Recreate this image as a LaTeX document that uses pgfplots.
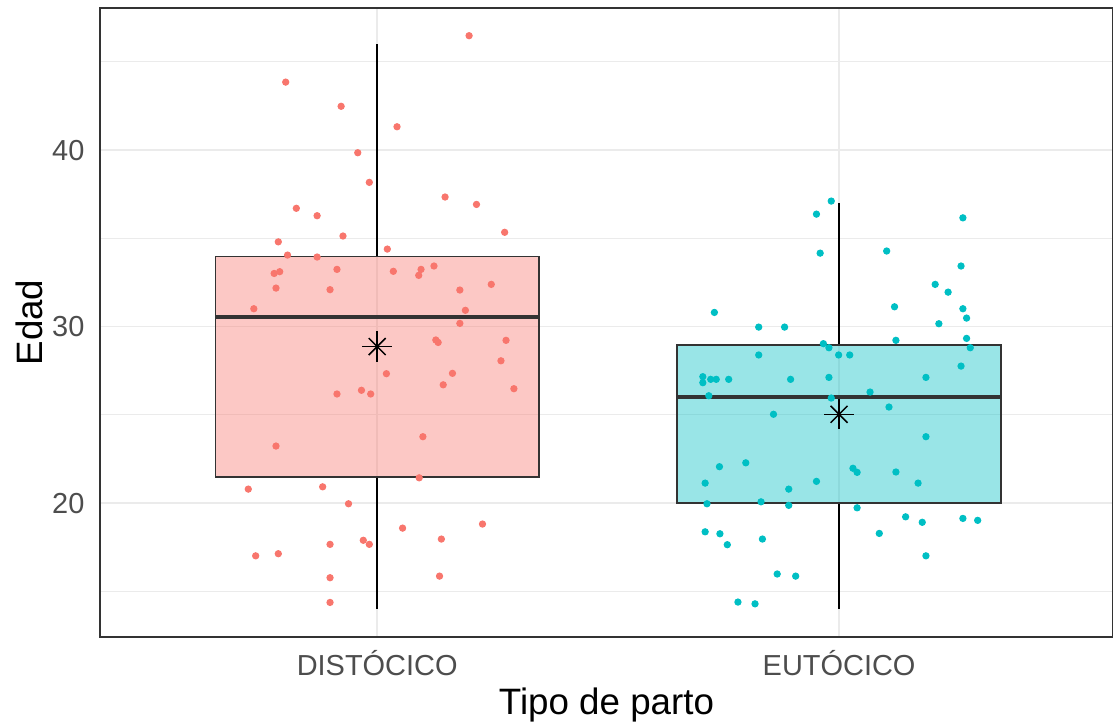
\documentclass[border=0pt]{standalone}
\usepackage{pgfplots}
\pgfplotsset{compat=1.18}
\usepackage{pgfplotstable}
\usepackage{fontspec}
\setmainfont{Liberation Sans}
\definecolor{cred}{HTML}{F8766D}
\definecolor{ccyan}{HTML}{00BFC4}
\definecolor{gridc}{HTML}{EBEBEB}
\definecolor{bord}{HTML}{333333}
\definecolor{tickc}{HTML}{4D4D4D}

\pgfplotstableread{
x y
0.802 43.85
0.922 42.48
0.958 39.85
0.983 38.17
0.825 36.70
0.870 36.28
0.786 34.80
0.926 35.13
1.022 34.39
0.806 34.05
0.870 33.94
0.777 33.01
0.789 33.11
0.913 33.24
0.781 32.18
0.898 32.09
0.733 31.01
1.199 46.48
1.043 41.32
1.147 37.34
1.215 36.92
1.276 35.34
1.035 33.13
1.095 33.24
1.090 32.90
1.123 33.43
1.179 32.07
1.247 32.39
1.191 30.92
1.020 27.33
0.913 26.18
0.966 26.39
0.986 26.18
0.781 23.23
0.721 20.79
0.882 20.92
0.938 19.96
0.898 17.66
0.970 17.89
0.983 17.66
0.737 17.01
0.786 17.13
0.898 15.77
0.898 14.37
1.179 30.18
1.127 29.24
1.132 29.10
1.279 29.22
1.268 28.06
1.163 27.35
1.143 26.70
1.296 26.48
1.099 23.76
1.091 21.43
1.055 18.58
1.139 17.96
1.228 18.81
1.135 15.86
}\distocico

\pgfplotstableread{
x y
1.983 37.11
1.951 36.37
1.959 34.16
1.730 30.80
1.826 29.97
1.882 29.97
1.966 29.03
1.978 28.80
1.826 28.39
1.999 28.39
2.023 28.39
1.705 27.16
1.705 26.82
1.722 27.01
1.734 27.01
1.761 27.01
1.895 27.01
1.978 27.12
1.718 26.08
1.983 25.95
1.858 25.03
2.268 36.16
2.103 34.28
2.264 33.43
2.208 32.39
2.236 31.95
2.120 31.12
2.268 31.01
2.276 30.48
2.216 30.16
2.276 29.33
2.123 29.22
2.284 28.80
2.264 27.76
2.188 27.12
2.067 26.29
2.108 25.44
1.741 22.06
1.798 22.28
1.710 21.13
1.951 21.23
1.891 20.79
1.714 19.96
1.831 20.07
1.891 19.87
1.710 18.37
1.742 18.26
1.758 17.64
1.834 17.96
1.866 15.98
1.906 15.86
1.781 14.39
1.818 14.29
2.188 23.76
2.030 21.97
2.039 21.74
2.123 21.76
2.171 21.13
2.039 19.73
2.144 19.22
2.180 18.91
2.268 19.13
2.300 19.02
2.087 18.28
2.188 17.01
}\eutocico

\begin{document}
\begin{tikzpicture}
\begin{axis}[name=ax, scale only axis, width=364.06pt, height=226.06pt,
  xmin=0.4, xmax=2.593, ymin=12.41, ymax=48.05,
  xtick={1,2}, xticklabels={DISTÓCICO, EUTÓCICO},
  ytick={20,30,40}, minor ytick={15,25,35,45},
  grid=both,
  major grid style={gridc, line width=0.55pt},
  minor grid style={gridc, line width=0.3pt},
  axis line style={bord, line width=0.7pt},
  major tick length=0pt, minor tick length=0pt,
  /pgf/number format/assume math mode=true,
  tick label style={font=\fontsize{10.4}{12}\selectfont, text=tickc, inner sep=0pt},
  xticklabel style={anchor=base, yshift=-14pt},
  yticklabel style={anchor=east, xshift=-5.4pt},
  clip=false,
]
% whiskers
\addplot[black, line width=0.5pt] coordinates {(1,33.97) (1,46.0)};
\addplot[black, line width=0.5pt] coordinates {(1,21.5) (1,14.0)};
\addplot[black, line width=0.5pt] coordinates {(2,28.95) (2,37.0)};
\addplot[black, line width=0.5pt] coordinates {(2,20.0) (2,14.0)};
% boxes
\addplot[draw=bord, line width=0.7pt, fill=cred, fill opacity=0.4] coordinates {(0.65,21.5) (1.35,21.5) (1.35,33.97) (0.65,33.97)} -- cycle;
\addplot[draw=bord, line width=0.7pt, fill=ccyan, fill opacity=0.4] coordinates {(1.65,20.0) (2.35,20.0) (2.35,28.95) (1.65,28.95)} -- cycle;
% medians
\addplot[bord, line width=1.3pt] coordinates {(0.65,30.55) (1.35,30.55)};
\addplot[bord, line width=1.3pt] coordinates {(1.65,26.0) (2.35,26.0)};
% points
\addplot[only marks, mark=*, color=cred, mark size=1.1pt, line width=0.4pt] table {\distocico};
\addplot[only marks, mark=*, color=ccyan, mark size=1.1pt, line width=0.4pt] table {\eutocico};
% means
\addplot[only marks, black, mark=+, mark size=5.4pt, line width=0.55pt] coordinates {(1,28.87) (2,25.03)};
\addplot[only marks, black, mark=x, mark size=4.3pt, line width=0.55pt] coordinates {(1,28.87) (2,25.03)};
\end{axis}
\node[rotate=90, anchor=base, font=\fontsize{13.2}{15}\selectfont] at ([xshift=-20.8pt]ax.west) {Edad};
\node[anchor=base, font=\fontsize{13.2}{15}\selectfont] at ([yshift=-27.7pt]ax.south) {Tipo de parto};
\pgfresetboundingbox
\path ([xshift=-35.94pt, yshift=-31.99pt]ax.south west) rectangle ([yshift=2.875pt]ax.north east);
\end{tikzpicture}
\end{document}
